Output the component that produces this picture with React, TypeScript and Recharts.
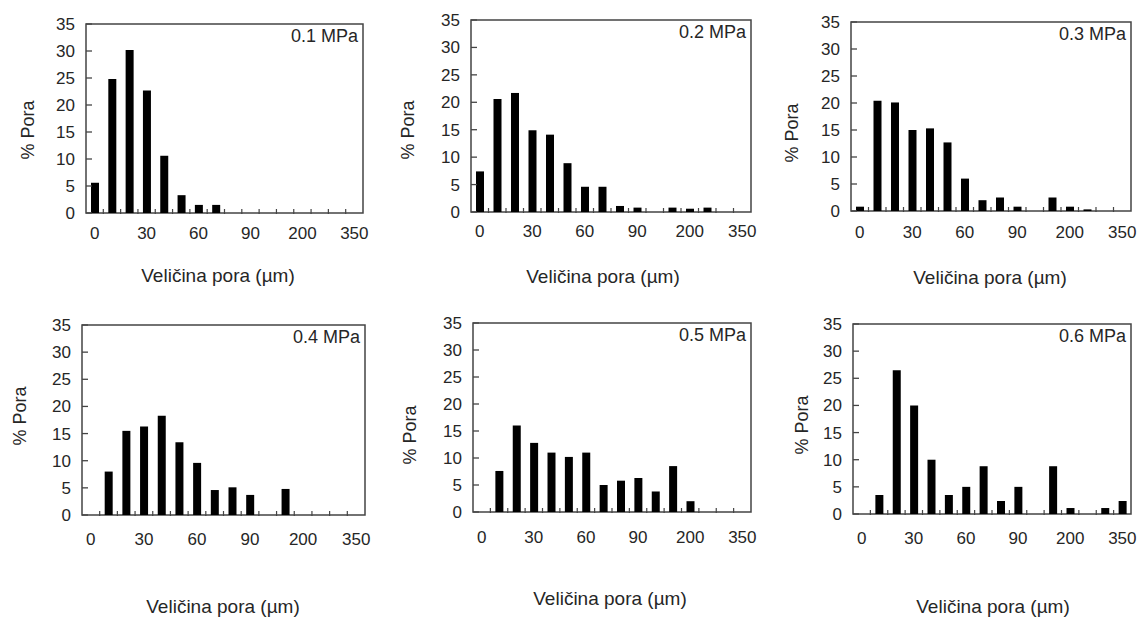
import { BarChart, Bar, XAxis, YAxis, ReferenceArea } from "recharts"

// pore size classes (µm) and the labels printed under the axis
const sizes = ["0", "10", "20", "30", "40", "50", "60", "70", "80", "90", "100", "150", "200", "250", "300", "350"]
const sizeLabels = ["0", "30", "60", "90", "200", "350"]
const binEdges = [1, 2, 3, 4, 5, 6, 7, 8, 9, 10, 11, 12, 13, 14, 15]
const percentTicks = [0, 5, 10, 15, 20, 25, 30, 35]

const pressures = ["0.1 MPa", "0.2 MPa", "0.3 MPa", "0.4 MPa", "0.5 MPa", "0.6 MPa"]

// % pora per size class
const pores01 = [5.6, 24.8, 30.2, 22.7, 10.6, 3.3, 1.5, 1.5, 0, 0, 0, 0, 0, 0, 0, 0]
const pores02 = [7.4, 20.6, 21.7, 14.9, 14.1, 8.9, 4.6, 4.6, 1.1, 0.8, 0, 0.8, 0.6, 0.8, 0, 0]
const pores03 = [0.8, 20.4, 20.1, 15, 15.3, 12.7, 6, 2, 2.5, 0.8, 0, 2.5, 0.8, 0.3, 0, 0]
const pores04 = [0, 8, 15.5, 16.3, 18.3, 13.4, 9.6, 4.6, 5.1, 3.7, 0, 4.8, 0, 0, 0, 0]
const pores05 = [0, 7.6, 16, 12.8, 11, 10.2, 11, 5, 5.8, 6.3, 3.8, 8.5, 2, 0, 0, 0]
const pores06 = [0, 3.5, 26.5, 20, 10, 3.5, 5, 8.8, 2.4, 5, 0, 8.8, 1.1, 0, 1.1, 2.4]

const series = [pores01, pores02, pores03, pores04, pores05, pores06]

// frame of each plot area on the page + where its titles sit
const layout = [
  { x: 86, y: 24, w: 277, h: 189, tm: 15, yl: [28, 130], xl: [218, 276] },
  { x: 471, y: 20, w: 280, h: 192, tm: 14, yl: [408, 130], xl: [603, 277] },
  { x: 851, y: 22, w: 280, h: 189, tm: 16, yl: [792, 133], xl: [990, 278] },
  { x: 82, y: 325, w: 283, h: 190, tm: 19, yl: [20, 416], xl: [223, 607] },
  { x: 473, y: 323, w: 278, h: 189, tm: 20, yl: [410, 435], xl: [610, 599] },
  { x: 853, y: 324, w: 278, h: 190, tm: 19, yl: [802, 425], xl: [993, 607] },
]

const FONT = "'Liberation Sans', Arial, sans-serif"
const INK = "#262626"
const FRAME = "#444"
const YW = 50
const MB = 40
const MT = 12
const MR = 18

function Panel({ values, title, box }: { values: number[]; title: string; box: typeof layout[number] }) {
  const data = sizes.map((s, i) => ({ size: s, idx: i + 0.5, pct: values[i] }))
  const tickStyle = { fontSize: 17, fill: INK, fontFamily: FONT }
  return (
    <>
      <div style={{ position: "absolute", left: box.x - YW, top: box.y - MT }}>
        <BarChart
          width={YW + box.w + MR}
          height={MT + box.h + 2 + MB}
          data={data}
          margin={{ top: MT, right: MR, left: 0, bottom: MB }}
          barCategoryGap={0}
        >
          <XAxis
            xAxisId="cat"
            dataKey="size"
            type="category"
            ticks={sizeLabels}
            interval={0}
            height={1}
            tickLine={false}
            tickSize={0}
            tickMargin={box.tm - 1}
            axisLine={false}
            tick={tickStyle}
          />
          <XAxis
            xAxisId="edges"
            dataKey="idx"
            type="number"
            domain={[0, 16]}
            allowDataOverflow
            ticks={binEdges}
            interval={0}
            height={1}
            axisLine={false}
            tickSize={-5}
            tickMargin={0}
            tickLine={{ stroke: FRAME, strokeWidth: 1.2 }}
            tick={{ fontSize: 1, fill: "none" }}
            tickFormatter={() => " "}
          />
          <YAxis
            yAxisId="pct"
            domain={[0, 35]}
            ticks={percentTicks}
            interval={0}
            width={YW}
            tickSize={-6}
            tickMargin={17}
            tickLine={{ stroke: FRAME, strokeWidth: 1.3 }}
            axisLine={false}
            tick={tickStyle}
          />
          <Bar dataKey="pct" xAxisId="cat" yAxisId="pct" fill="#000" barSize={8} isAnimationActive={false} />
          <ReferenceArea
            xAxisId="edges"
            yAxisId="pct"
            x1={0}
            x2={16}
            y1={0}
            y2={35}
            fill="none"
            fillOpacity={0}
            stroke={FRAME}
            strokeWidth={1.5}
            label={{
              value: title,
              position: "insideTopRight",
              offset: 5,
              style: { fontSize: 18, fill: INK, fontFamily: FONT },
            }}
          />
        </BarChart>
      </div>
      <div
        style={{
          position: "absolute",
          left: box.yl[0],
          top: box.yl[1],
          transform: "translate(-50%, -50%) rotate(-90deg)",
          fontFamily: FONT,
          fontSize: 18,
          color: INK,
          whiteSpace: "nowrap",
        }}
      >
        % Pora
      </div>
      <div
        style={{
          position: "absolute",
          left: box.xl[0],
          top: box.xl[1],
          transform: "translate(-50%, -50%)",
          fontFamily: FONT,
          fontSize: 19,
          color: INK,
          whiteSpace: "nowrap",
        }}
      >
        Veličina pora (µm)
      </div>
    </>
  )
}

export default function App() {
  return (
    <div style={{ position: "absolute", left: 0, top: 0, width: 1140, height: 619, background: "#fff", overflow: "hidden" }}>
      {series.map((values, i) => (
        <Panel key={pressures[i]} values={values} title={pressures[i]} box={layout[i]} />
      ))}
    </div>
  )
}
